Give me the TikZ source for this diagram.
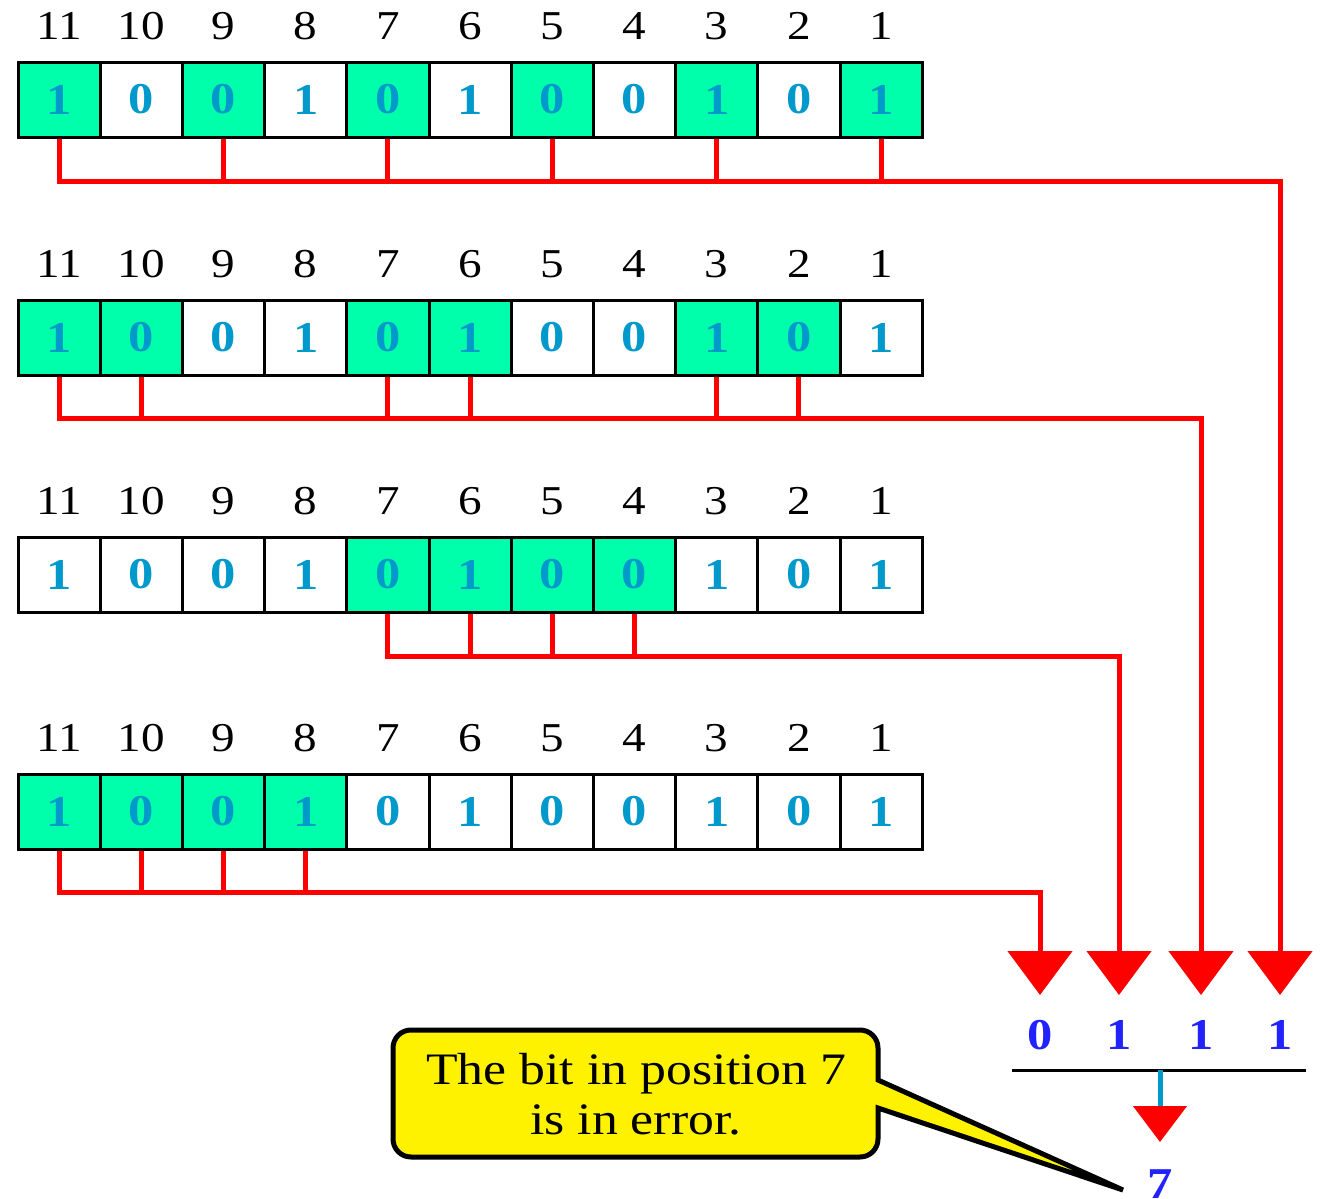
\documentclass[tikz,border=0pt]{standalone}
\usepackage{fontspec}
\setmainfont[FakeStretch=1.15]{Liberation Serif}
\usetikzlibrary{arrows.meta}
\definecolor{cellgreen}{RGB}{0,255,170}
\definecolor{bitblue}{RGB}{0,153,204}
\definecolor{resblue}{RGB}{34,34,255}
\def\bitlist{{1,0,0,1,0,1,0,0,1,0,1}}
\def\grA{{1,0,1,0,1,0,1,0,1,0,1}}
\def\grB{{1,1,0,0,1,1,0,0,1,1,0}}
\def\grC{{0,0,0,0,1,1,1,1,0,0,0}}
\def\grD{{1,1,1,1,0,0,0,0,0,0,0}}
\begin{document}
\begin{tikzpicture}[x=0.5pt,y=-0.5pt,
  cell/.style={draw=black,line width=1.5pt,minimum width=41.1pt,minimum height=37.5pt,
    inner sep=0pt,font=\fontsize{22}{26}\selectfont\bfseries,text=bitblue},
  poslabel/.style={inner sep=0pt,font=\fontsize{20.5}{24}\selectfont},
  wire/.style={draw=red,line width=2.5pt},
  bigtip/.style={-{Triangle[width=32pt,length=22pt]}},
  resdigit/.style={inner sep=0pt,font=\fontsize{22}{26}\selectfont\bfseries,text=resblue},
  callout/.style={fill=yellow,draw=black,line width=2.5pt}]
\useasboundingbox (0,0) rectangle (1329,1199);

% cells and position labels
\foreach \r/\yy/\G in {1/99.5/\grA, 2/337.5/\grB, 3/574.5/\grC, 4/811.5/\grD}{
  \foreach \k in {0,...,10}{
    \pgfmathtruncatemacro\pp{11-\k}
    \pgfmathtruncatemacro\bv{\bitlist[\k]}
    \pgfmathtruncatemacro\gv{\G[\k]}
    \ifnum\gv=1 \def\fc{cellgreen}\else\def\fc{white}\fi
    \node[cell,fill=\fc] (c\r-\pp) at ({18+82.2*(\k+0.5)},\yy) {\bv};
    \node[poslabel] (l\r-\pp) at ({18+82.2*(\k+0.5)},\yy-73.5) {\pp};
  }
}

% bus levels and arrow tips
\coordinate (b1) at (0,181);
\coordinate (b2) at (0,418);
\coordinate (b3) at (0,656);
\coordinate (b4) at (0,892);
\coordinate (t1) at (1040,995);
\coordinate (t2) at (1119,995);
\coordinate (t3) at (1201,995);
\coordinate (t4) at (1280,995);

% row 1: positions 11,9,7,5,3,1
\draw[wire] (c1-11.south) -- (c1-11.south |- b1) -- (c1-1.south |- b1);
\foreach \q in {9,7,5,3}{\draw[wire] (c1-\q.south) -- (c1-\q.south |- b1);}
\draw[wire,bigtip] (c1-1.south) -- (c1-1.south |- b1) -| (t4);

% row 2: positions 11,10,7,6,3,2
\draw[wire] (c2-11.south) -- (c2-11.south |- b2) -- (c2-2.south |- b2);
\foreach \q in {10,7,6,3}{\draw[wire] (c2-\q.south) -- (c2-\q.south |- b2);}
\draw[wire,bigtip] (c2-2.south) -- (c2-2.south |- b2) -| (t3);

% row 3: positions 7,6,5,4
\draw[wire] (c3-7.south) -- (c3-7.south |- b3) -- (c3-4.south |- b3);
\foreach \q in {6,5}{\draw[wire] (c3-\q.south) -- (c3-\q.south |- b3);}
\draw[wire,bigtip] (c3-4.south) -- (c3-4.south |- b3) -| (t2);

% row 4: positions 11,10,9,8
\draw[wire] (c4-11.south) -- (c4-11.south |- b4) -- (c4-8.south |- b4);
\foreach \q in {10,9}{\draw[wire] (c4-\q.south) -- (c4-\q.south |- b4);}
\draw[wire,bigtip] (c4-8.south) -- (c4-8.south |- b4) -| (t1);

% result digits
\node[resdigit] (r1) at (1040,1035) {0};
\node[resdigit] (r2) at (1119,1035) {1};
\node[resdigit] (r3) at (1201,1035) {1};
\node[resdigit] (r4) at (1280,1035) {1};
\coordinate (ul) at (1012,1070);
\coordinate (ur) at (1306,1070);
\draw[black,line width=1.5pt] (ul) -- (ur);
\coordinate (um) at (1160,1070);
\node[resdigit] (err) at (1160,1184) {7};
\coordinate (et) at (1160,1142);
\draw[draw=bitblue,line width=2.5pt,-{Triangle[width=26.5pt,length=18pt,color=red]}] (um) -- (et);

% callout
\draw[callout] (878,1080) -- (1123,1190) -- (878,1108) [rounded corners=9pt] -- (878,1157) -- (393,1157) -- (393,1030) -- (878,1030) [sharp corners] -- cycle;
\node[inner sep=0pt,align=center,font=\fontsize{22.5}{25}\selectfont] (call) at (636,1094) {The bit in position 7\\is in error.};
\end{tikzpicture}
\end{document}
